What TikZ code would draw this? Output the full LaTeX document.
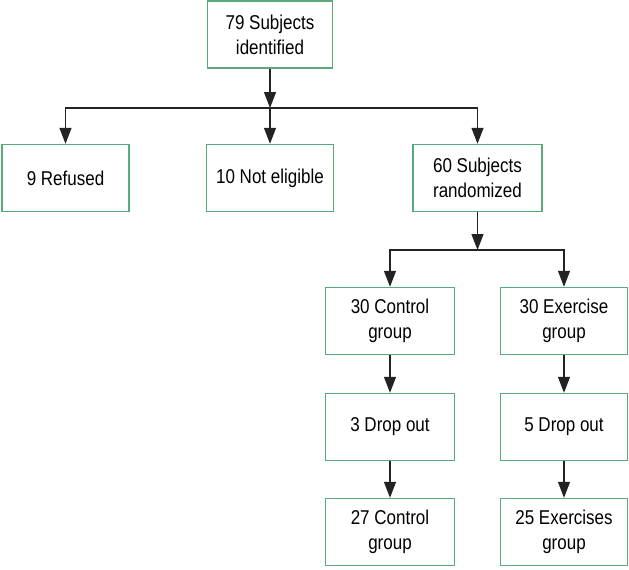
\documentclass[tikz,border=0pt]{standalone}
\usepackage{fontspec}
\setmainfont[FakeStretch=0.85]{Liberation Sans}
\usetikzlibrary{arrows.meta}
\definecolor{boxgreen}{RGB}{88,170,120}
\definecolor{linegray}{RGB}{35,35,35}
\tikzset{
  stagebox/.style={draw=boxgreen, line width=1.4pt, fill=white, minimum width=127pt,
    minimum height=67pt, align=center, inner sep=0pt,
    font=\fontsize{20pt}{25pt}\selectfont},
  flow/.style={draw=linegray, line width=1.3pt, -{Triangle[width=12pt,length=16pt]}},
}
\begin{document}
\begin{tikzpicture}[x=1pt,y=-1pt]
  %%%%% START %%%%%
  \useasboundingbox (0,0) rectangle (629,570);

  \node[stagebox, minimum width=125pt] (identified) at (270,34.5) {79 Subjects\\identified};

  \node[stagebox] (refused) at (65.5,178) {9 Refused};
  \node[stagebox] (noteligible) at (270,178) {10 Not eligible};
  \node[stagebox, minimum width=129pt] (randomized) at (477.5,178) {60 Subjects\\randomized};

  \node[stagebox, minimum width=129pt] (control) at (390,321) {30 Control\\group};
  \node[stagebox] (exercise) at (564,321) {30 Exercise\\group};

  \node[stagebox, minimum width=129pt] (dropcontrol) at (390,427) {3 Drop out};
  \node[stagebox] (dropexercise) at (564,427) {5 Drop out};

  \node[stagebox, minimum width=129pt] (finalcontrol) at (390,532) {27 Control\\group};
  \node[stagebox] (finalexercise) at (564,532) {25 Exercises\\group};

  \coordinate (splittop) at (270,108);
  \coordinate (splitrand) at (477.5,250);

  \draw[flow] (identified.south) -- (splittop);
  \draw[flow] (splittop) -| (refused.north);
  \draw[flow] (splittop) -- (noteligible.north);
  \draw[flow] (splittop) -| (randomized.north);

  \draw[flow] (randomized.south) -- (splitrand);
  \draw[flow] (splitrand) -| (control.north);
  \draw[flow] (splitrand) -| (exercise.north);

  \draw[flow] (control) -- (dropcontrol);
  \draw[flow] (exercise) -- (dropexercise);
  \draw[flow] (dropcontrol) -- (finalcontrol);
  \draw[flow] (dropexercise) -- (finalexercise);
  %%%%% END %%%%%
\end{tikzpicture}
\end{document}
